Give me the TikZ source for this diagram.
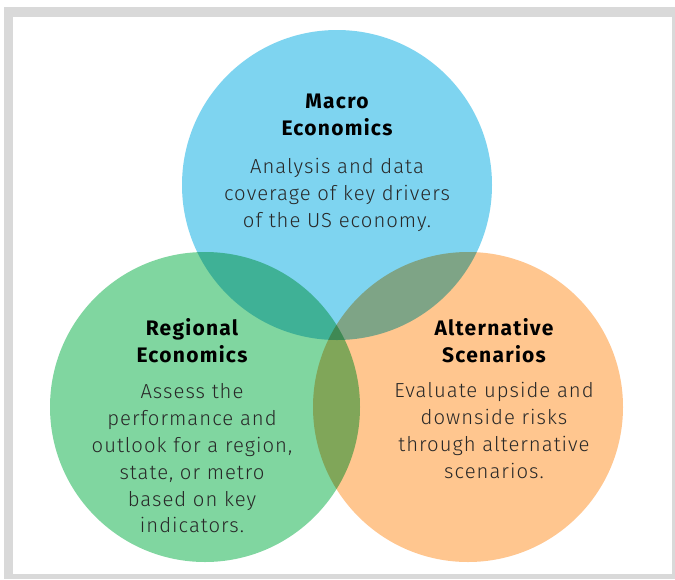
\documentclass[tikz,border=0pt]{standalone}
\usepackage{fontspec}
\setmainfont{Fira Sans}
\newfontfamily\bodyfont{Fira Sans Light}[LetterSpace=5]
\newfontfamily\headfont{Fira Sans Bold}[LetterSpace=6]
\definecolor{framegray}{RGB}{217,217,217}
\definecolor{macroblue}{RGB}{126,212,240}
\definecolor{regiongreen}{RGB}{128,214,160}
\definecolor{altorange}{RGB}{255,198,143}
\definecolor{bodytext}{RGB}{40,40,40}
\tikzset{
  venn/.style={draw=none},
  headline/.style={anchor=base, inner sep=0pt, text=black, font=\headfont\fontsize{21}{27}\selectfont},
  bodyline/.style={anchor=base, inner sep=0pt, text=bodytext, font=\bodyfont\fontsize{20.3}{27}\selectfont}
}
\begin{document}
\begin{tikzpicture}[x=1pt,y=-1pt]
  \useasboundingbox (0,0) rectangle (675,579);
  % outer frame
  \fill[framegray] (4,7) rectangle (675,579);
  \fill[white] (13,17) rectangle (672,574);
  % three overlapping circles, multiplied where they overlap
  \begin{scope}[blend group=multiply]
    \fill[macroblue, venn] (337,185) circle[radius=155];
    \fill[regiongreen, venn] (205,407) circle[radius=155];
    \fill[altorange, venn] (468,407) circle[radius=155];
  \end{scope}
  % Macro Economics
  \node[headline] (mt1) at (337,108) {Macro};
  \node[headline] (mt2) at (337,135) {Economics};
  \foreach \t [count=\i] in {Analysis and data, coverage of key drivers, of the US economy.}
    \node[bodyline] (mb\i) at (337,146+27*\i) {\t};
  % Regional Economics
  \node[headline] (rt1) at (192,335) {Regional};
  \node[headline] (rt2) at (192,362) {Economics};
  \foreach \t [count=\i] in {Assess the, performance and, {outlook for a region,}, {state, or metro}, based on key, indicators.}
    \node[bodyline] (rb\i) at (192,372+26.8*\i) {\t};
  % Alternative Scenarios
  \node[headline] (at1) at (494,335) {Alternative};
  \node[headline] (at2) at (494,362) {Scenarios};
  \foreach \t [count=\i] in {Evaluate upside and, downside risks, through alternative, scenarios.}
    \node[bodyline] (ab\i) at (494,371+26.8*\i) {\t};
\end{tikzpicture}
\end{document}
